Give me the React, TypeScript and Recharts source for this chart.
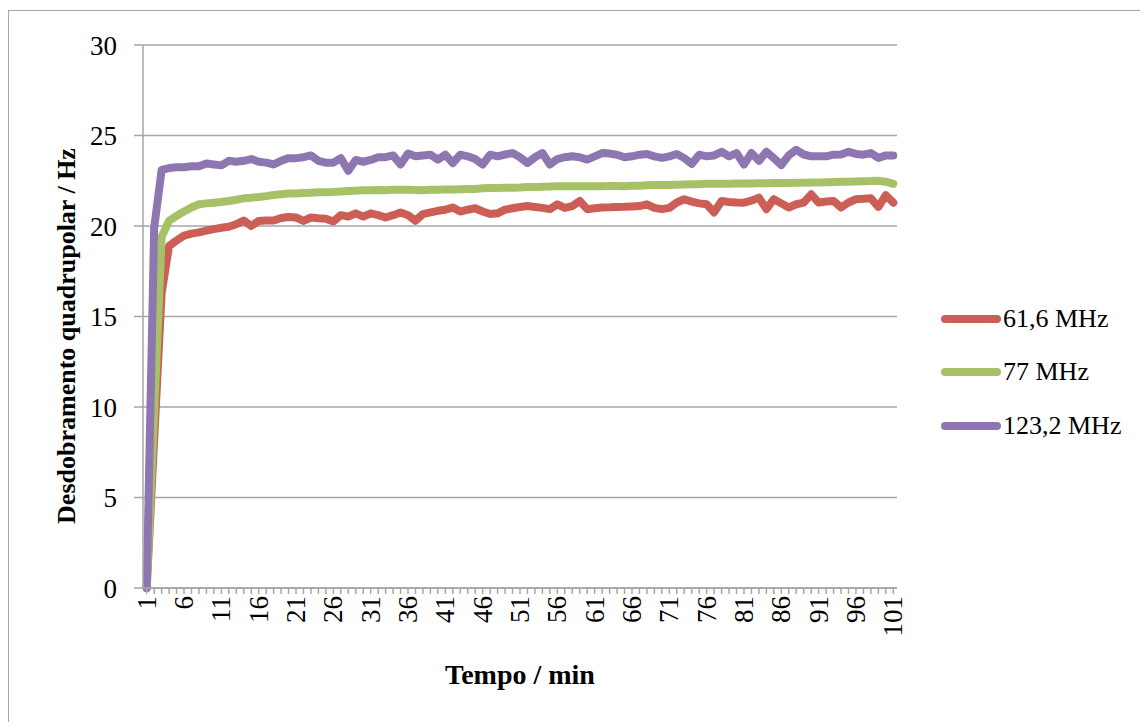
import React from "react";
import { LineChart, Line, XAxis, YAxis, CartesianGrid } from "recharts";

// minutes 1..101
const minutes = [
  1, 2, 3, 4, 5, 6, 7, 8, 9, 10, 11, 12, 13, 14, 15, 16, 17, 18, 19, 20,
  21, 22, 23, 24, 25, 26, 27, 28, 29, 30, 31, 32, 33, 34, 35, 36, 37, 38, 39, 40,
  41, 42, 43, 44, 45, 46, 47, 48, 49, 50, 51, 52, 53, 54, 55, 56, 57, 58, 59, 60,
  61, 62, 63, 64, 65, 66, 67, 68, 69, 70, 71, 72, 73, 74, 75, 76, 77, 78, 79, 80,
  81, 82, 83, 84, 85, 86, 87, 88, 89, 90, 91, 92, 93, 94, 95, 96, 97, 98, 99, 100,
  101,
];

const mhz616 = [
  0, 8.2, 16.3, 18.9, 19.2, 19.47, 19.58, 19.65, 19.75, 19.83,
  19.9, 19.96, 20.1, 20.3, 20.0, 20.28, 20.3, 20.3, 20.44, 20.5,
  20.47, 20.28, 20.47, 20.43, 20.4, 20.25, 20.6, 20.52, 20.7, 20.52,
  20.7, 20.6, 20.47, 20.6, 20.75, 20.6, 20.29, 20.66, 20.75, 20.84,
  20.9, 21.02, 20.8, 20.9, 20.98, 20.8, 20.66, 20.7, 20.9, 20.98,
  21.05, 21.1, 21.05, 21.0, 20.93, 21.2, 21.0, 21.1, 21.38, 20.93,
  20.98, 21.02, 21.03, 21.05, 21.06, 21.08, 21.1, 21.2, 21.0, 20.93,
  21.0, 21.3, 21.48, 21.35, 21.25, 21.2, 20.75, 21.38, 21.33, 21.3,
  21.29, 21.4, 21.57, 20.93, 21.48, 21.25, 21.02, 21.2, 21.29, 21.75,
  21.29, 21.35, 21.38, 21.02, 21.3, 21.48, 21.5, 21.53, 21.06, 21.7,
  21.29,
];

const mhz77 = [
  0, 9.7, 19.4, 20.29, 20.56, 20.8, 21.02, 21.2, 21.25, 21.29,
  21.33, 21.38, 21.45, 21.53, 21.56, 21.6, 21.65, 21.71, 21.75, 21.79,
  21.8, 21.82, 21.84, 21.86, 21.87, 21.88, 21.9, 21.93, 21.95, 21.97,
  21.98, 21.99, 21.98, 22.0, 22.0, 22.0, 21.99, 21.98, 22.0, 22.0,
  22.01, 22.02, 22.03, 22.04, 22.05, 22.08, 22.1, 22.1, 22.11, 22.12,
  22.13, 22.15, 22.16, 22.17, 22.18, 22.2, 22.2, 22.2, 22.2, 22.2,
  22.2, 22.2, 22.21, 22.21, 22.2, 22.22, 22.23, 22.25, 22.26, 22.27,
  22.27, 22.28, 22.29, 22.3, 22.31, 22.33, 22.33, 22.34, 22.34, 22.35,
  22.35, 22.35, 22.36, 22.36, 22.37, 22.38, 22.38, 22.39, 22.39, 22.4,
  22.41, 22.42, 22.43, 22.44, 22.45, 22.46, 22.47, 22.48, 22.5, 22.45,
  22.33,
];

const mhz1232 = [
  0, 19.9, 23.1, 23.2, 23.25, 23.25, 23.3, 23.3, 23.45, 23.4,
  23.35, 23.6, 23.55, 23.6, 23.7, 23.55, 23.5, 23.4, 23.6, 23.75,
  23.75, 23.8, 23.9, 23.6, 23.5, 23.5, 23.75, 23.05, 23.65, 23.55,
  23.65, 23.8, 23.8, 23.9, 23.4, 24.0, 23.85, 23.9, 23.94, 23.67,
  23.94, 23.48, 23.94, 23.85, 23.7, 23.4, 23.94, 23.85, 23.95, 24.03,
  23.8, 23.48, 23.8, 24.03, 23.4, 23.7, 23.8, 23.85, 23.8, 23.67,
  23.85, 24.03, 24.0, 23.94, 23.8, 23.85, 23.94, 23.98, 23.85, 23.76,
  23.85, 23.98, 23.75, 23.43, 23.94, 23.85, 23.9, 24.1, 23.85, 24.03,
  23.4, 24.03, 23.6, 24.1, 23.75, 23.37, 23.9, 24.21, 23.95, 23.85,
  23.85, 23.85, 23.94, 23.95, 24.1, 23.98, 23.94, 24.03, 23.76, 23.9,
  23.9,
];

const seriesNames = ["61,6 MHz", "77 MHz", "123,2 MHz"];
const seriesColors = ["#cb5f56", "#a7c266", "#8e76b0"];
const yTicks = [0, 5, 10, 15, 20, 25, 30];
const xTickLabels = [1, 6, 11, 16, 21, 26, 31, 36, 41, 46, 51, 56, 61, 66, 71, 76, 81, 86, 91, 96, 101];

const data = minutes.map((t, i) => ({
  t,
  a: mhz616[i],
  b: mhz77[i],
  c: mhz1232[i],
}));
const keys = ["a", "b", "c"];

const FONT = "'Liberation Serif', 'Times New Roman', serif";
const GRID = "#a6a6a6";

function XTick(props: any) {
  const { x, y, payload } = props;
  if (!xTickLabels.includes(payload.value)) return null;
  return (
    <text
      x={x}
      y={y}
      transform={`rotate(-90, ${x}, ${y})`}
      textAnchor="end"
      dominantBaseline="central"
      fontFamily={FONT}
      fontSize={27}
      fill="#000"
    >
      {payload.value}
    </text>
  );
}

function LegendBox() {
  return (
    <div
      style={{
        position: "absolute",
        left: 932,
        top: 281,
        fontFamily: FONT,
        fontSize: 26,
        color: "#000",
      }}
    >
      {seriesNames.map((name, i) => (
        <div key={name} style={{ display: "flex", alignItems: "center", height: 53.5 }}>
          <span
            style={{
              display: "inline-block",
              width: 60,
              height: 8,
              borderRadius: 4,
              background: seriesColors[i],
              marginRight: 2,
            }}
          />
          <span>{name}</span>
        </div>
      ))}
    </div>
  );
}

export default function App() {
  return (
    <div
      style={{
        position: "relative",
        width: 1140,
        height: 712,
        marginTop: 2,
        borderTop: `1.5px solid ${GRID}`,
        borderLeft: `1.5px solid ${GRID}`,
        boxSizing: "border-box",
      }}
    >
      <div style={{ position: "absolute", left: -1.5, top: -3.5 }}>
        <LineChart
          width={1140}
          height={710}
          data={data}
          margin={{ top: 37, right: 251, bottom: 0, left: 0 }}
        >
          <CartesianGrid vertical={false} stroke={GRID} strokeWidth={1.5} />
          <XAxis
            dataKey="t"
            interval={0}
            tickSize={6}
            tick={<XTick />}
            height={130}
            padding={{ left: 3.7, right: 3.7 }}
            stroke={GRID}
            strokeWidth={1.5}
            label={{
              content: () => (
                <text
                  x={520 - 8}
                  y={684 - 8}
                  textAnchor="middle"
                  fontFamily={FONT}
                  fontSize={28}
                  fontWeight="bold"
                  fill="#000"
                >
                  Tempo / min
                </text>
              ),
            }}
          />
          <YAxis
            domain={[0, 30]}
            ticks={yTicks}
            interval={0}
            width={135}
            tickSize={9}
            tickMargin={17}
            stroke={GRID}
            strokeWidth={1.5}
            tick={{ fontFamily: FONT, fontSize: 27, fill: "#000" }}
            label={{
              content: () => (
                <text
                  x={66 - 8}
                  y={336 - 8}
                  transform={`rotate(-90, ${66 - 8}, ${336 - 8})`}
                  textAnchor="middle"
                  dominantBaseline="central"
                  fontFamily={FONT}
                  fontSize={26}
                  fontWeight="bold"
                  fill="#000"
                >
                  Desdobramento quadrupolar / Hz
                </text>
              ),
            }}
          />
          {keys.map((k, i) => (
            <Line
              key={k}
              dataKey={k}
              name={seriesNames[i]}
              type="linear"
              stroke={seriesColors[i]}
              strokeWidth={8}
              strokeLinejoin="round"
              strokeLinecap="round"
              dot={false}
              isAnimationActive={false}
            />
          ))}
        </LineChart>
      </div>
      <LegendBox />
    </div>
  );
}
